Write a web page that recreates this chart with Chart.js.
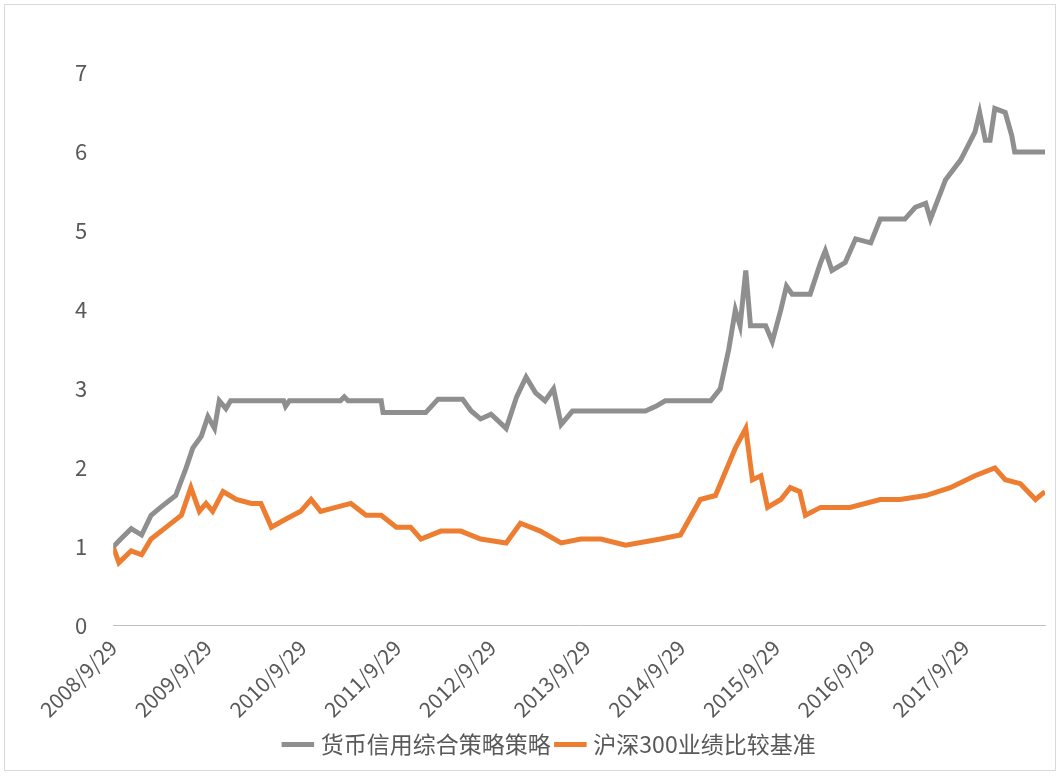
<!DOCTYPE html>
<html><head><meta charset="utf-8">
<script src="https://cdn.jsdelivr.net/npm/chart.js@4"></script>
<style>
body{margin:0;background:#fff;}
#wrap{position:absolute;left:4px;top:4px;width:1052px;height:767px;border:1px solid #d9d9d9;box-sizing:border-box;}
</style></head><body>
<div id="wrap"><canvas id="c"></canvas></div>
<script>
// x = years since 2008/9/29
const strategyX = [0,0.08,0.19,0.3,0.4,0.5,0.66,0.77,0.84,0.93,1.0,1.07,1.12,1.19,1.24,1.8,1.82,1.86,2.4,2.44,2.48,2.83,2.85,3.3,3.43,3.69,3.78,3.88,3.99,4.15,4.26,4.36,4.46,4.56,4.65,4.73,4.85,5.52,5.62,5.73,5.83,6.31,6.41,6.5,6.57,6.62,6.68,6.73,6.89,6.96,7.05,7.11,7.17,7.36,7.47,7.52,7.59,7.73,7.84,8.0,8.1,8.36,8.47,8.58,8.63,8.79,8.95,9.1,9.15,9.21,9.26,9.31,9.42,9.49,9.52,9.84];
const strategyY = [1.0,1.1,1.23,1.15,1.4,1.5,1.65,2.0,2.25,2.4,2.65,2.5,2.85,2.75,2.85,2.85,2.78,2.85,2.85,2.9,2.85,2.85,2.7,2.7,2.87,2.87,2.72,2.62,2.68,2.5,2.9,3.15,2.95,2.85,3.0,2.55,2.72,2.72,2.72,2.78,2.85,2.85,3.0,3.5,4.0,3.8,4.5,3.8,3.8,3.6,4.0,4.3,4.2,4.2,4.6,4.75,4.5,4.6,4.9,4.85,5.15,5.15,5.3,5.35,5.15,5.65,5.9,6.25,6.5,6.15,6.15,6.55,6.5,6.2,6.0,6.0];
const benchX = [0,0.06,0.19,0.3,0.4,0.56,0.72,0.82,0.91,0.98,1.05,1.16,1.3,1.46,1.56,1.67,1.82,1.98,2.09,2.19,2.35,2.51,2.67,2.83,2.99,3.14,3.25,3.46,3.67,3.88,4.15,4.3,4.51,4.73,4.94,5.15,5.41,5.78,5.99,6.2,6.36,6.57,6.68,6.75,6.84,6.91,7.05,7.15,7.25,7.31,7.47,7.78,8.1,8.31,8.58,8.84,9.1,9.31,9.42,9.58,9.74,9.84];
const benchY = [1.0,0.8,0.95,0.9,1.1,1.25,1.4,1.75,1.45,1.55,1.45,1.7,1.6,1.55,1.55,1.25,1.35,1.45,1.6,1.45,1.5,1.55,1.4,1.4,1.25,1.25,1.1,1.2,1.2,1.1,1.05,1.3,1.2,1.05,1.1,1.1,1.02,1.1,1.15,1.6,1.65,2.25,2.5,1.85,1.9,1.5,1.6,1.75,1.7,1.4,1.5,1.5,1.6,1.6,1.65,1.75,1.9,2.0,1.85,1.8,1.6,1.7];
const yTicks = [0,1,2,3,4,5,6,7];
const seriesNames = ['货币信用综合策略策略','沪深300业绩比较基准'];

const pts = (xs, ys) => xs.map((x, i) => ({ x, y: ys[i] }));
const font = '"Noto Sans CJK SC", "Noto Sans", sans-serif';

new Chart(document.getElementById('c'), {
  type: 'line',
  data: {
    datasets: [
      { label: seriesNames[0], data: pts(strategyX, strategyY), borderColor: '#8f8f8f', backgroundColor: '#8f8f8f', borderWidth: 5, pointRadius: 0, tension: 0 },
      { label: seriesNames[1], data: pts(benchX, benchY), borderColor: '#ed7d31', backgroundColor: '#ed7d31', borderWidth: 5, pointRadius: 0, tension: 0 },
    ],
  },
  options: {
    responsive: true,
    maintainAspectRatio: false,
    animation: false,
    layout: { padding: { top: 68, right: 10, left: 52, bottom: 4 } },
    plugins: {
      legend: {
        position: 'bottom',
        labels: { usePointStyle: true, pointStyle: 'line', boxWidth: 64, color: '#595959', font: { family: font, size: 23 }, padding: 8 },
      },
      tooltip: { enabled: false },
    },
    scales: {
      x: {
        type: 'linear', min: 0, max: 9.84,
        grid: { display: false, drawTicks: true, tickLength: 6, color: '#bfbfbf' },
        border: { color: '#bfbfbf', width: 1 },
        afterBuildTicks: (axis) => { axis.ticks = [0,1,2,3,4,5,6,7,8,9].map((v) => ({ value: v })); },
        ticks: { minRotation: 45, maxRotation: 45, color: '#595959', font: { family: font, size: 21 }, callback: (v) => `${2008 + v}/9/29` },
      },
      y: {
        min: 0, max: 7,
        grid: { display: false },
        border: { display: false },
        afterBuildTicks: (axis) => { axis.ticks = yTicks.map((v) => ({ value: v })); },
        ticks: { color: '#595959', font: { family: font, size: 22 }, padding: 18 },
      },
    },
  },
});
</script>
</body></html>
